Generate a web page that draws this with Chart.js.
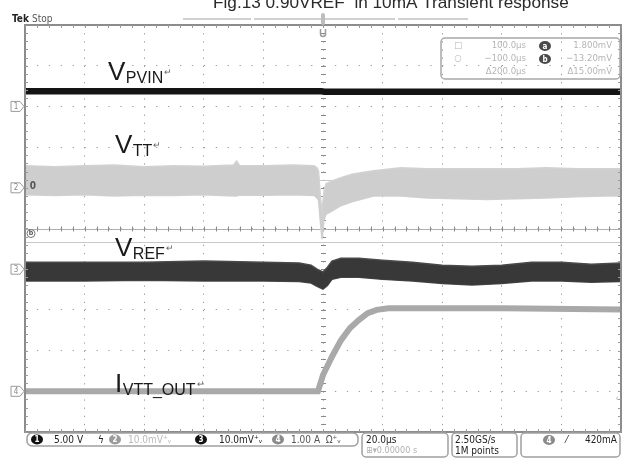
<!DOCTYPE html>
<html>
<head>
<meta charset="utf-8">
<script src="https://cdn.jsdelivr.net/npm/chart.js@4.4.1/dist/chart.umd.min.js"></script>
<style>
html,body{margin:0;padding:0;background:#fff;}
canvas{display:block;}
</style>
</head>
<body>
<canvas id="c" width="627" height="459"></canvas>
<script>
// ---- channel settings (per division) ----
const ch1Scale = 5;    // V/div  (V_PVIN)
const ch2Scale = 10;   // mV/div (V_TT)
const ch3Scale = 10;   // mV/div (V_REF)
const ch4Scale = 1;    // A/div  (I_VTT_OUT)
const ch1Offset = 3, ch2Offset = 1, ch3Offset = -1, ch4Offset = -4; // divisions

// ---- V_PVIN (V) ----
const pvinTime = [-100, -0.5, 0.5, 100];
const pvinVolt = [1.85, 1.85, 1.80, 1.80];

// ---- V_TT envelope (mV) ----
const vttTime = [-100,-90,-80,-70,-60,-50,-40,-30,-29,-28,-20,-10,-3,-2,-1.5,-0.8,-0.3,0.3,1,3,6,10,17,26,35,45,55,65,75,85,95,100];
const vttHigh = [5.4,5.2,5.4,5.6,5.2,5.4,5.3,5.6,6.6,5.5,5.4,5.6,5.4,4.9,4.0,-3.0,-6.0,-1.0,1.0,1.7,2.5,3.4,4.2,4.9,4.7,4.7,4.7,4.7,4.9,4.7,4.7,4.7];
const vttLow  = [-1.7,-1.9,-1.7,-2.0,-1.8,-1.9,-1.7,-2.0,-2.0,-1.8,-1.8,-1.7,-1.9,-2.5,-3.0,-9.0,-12.6,-8.0,-6.5,-5.7,-4.4,-3.4,-2.0,-2.0,-2.5,-2.7,-2.9,-2.7,-2.5,-2.2,-2.0,-2.0];
// denser core of the V_TT band (mV)
const vttCoreHigh = [4.2,4.0,4.2,4.3,4.0,4.2,4.1,4.3,4.6,4.2,4.2,4.3,4.2,3.8,3.0,-4.0,-7.0,-2.0,0.0,0.7,1.5,2.4,3.2,3.8,3.6,3.5,3.5,3.6,3.8,3.6,3.6,3.6];
const vttCoreLow  = [-0.6,-0.8,-0.6,-0.9,-0.7,-0.8,-0.6,-0.9,-0.9,-0.7,-0.7,-0.6,-0.8,-1.4,-2.0,-8.0,-11.5,-7.0,-5.5,-4.6,-3.4,-2.4,-1.0,-1.0,-1.5,-1.7,-1.9,-1.7,-1.5,-1.2,-1.0,-1.0];

// ---- V_REF envelope (mV) ----
const vrefTime = [-100,-80,-60,-40,-20,-8,-4,-2,0,1.5,3,6,12,20,30,40,50,60,70,80,90,100];
const vrefHigh = [1.7,1.7,1.7,2.0,1.7,1.5,1.0,0.0,-0.7,0.5,2.0,2.7,2.7,2.2,1.7,1.0,0.7,1.0,1.7,1.7,1.2,1.5];
const vrefLow  = [-2.9,-2.9,-2.7,-2.9,-2.9,-3.0,-3.4,-4.2,-4.9,-4.0,-2.5,-2.0,-2.0,-2.5,-2.9,-3.5,-3.9,-3.5,-2.9,-2.9,-3.2,-3.0];

// ---- I_VTT_OUT (A) ----
const ioutTime = [-100,-1.7,0,3,6,9,12,15,18,22,30,60,100];
const ioutAmp  = [0,0,0.4,0.85,1.25,1.55,1.75,1.92,2.0,2.04,2.04,2.04,2.01];

// ---- cursors ----
const cursorA = 1.8;     // mV (ch2)
const cursorB = -13.2;   // mV (ch2)

// ---- text ----
const titleText = 'Fig.13 0.90VREF  in 10mA Transient response';
const readoutRows = [
  ['□', '100.0µs', 'a', '1.800mV'],
  ['○', '−100.0µs', 'b', '−13.20mV'],
  ['', 'Δ200.0µs', '', 'Δ15.00mV']
];

const toDiv = (arr, scale, off) => arr.map(v => off + v / scale);
const pts = (t, arr) => t.map((x, i) => ({x, y: arr[i]}));

const datasets = [
  {label:'V_TT high', data: pts(vttTime, toDiv(vttHigh, ch2Scale, ch2Offset)), borderColor:'#d2d2d2', backgroundColor:'#cecece', borderWidth:1.5, fill:'+1'},
  {label:'V_TT low', data: pts(vttTime, toDiv(vttLow, ch2Scale, ch2Offset)), borderColor:'#d2d2d2', borderWidth:1.5, fill:false},
  {label:'V_TT core high', data: pts(vttTime, toDiv(vttCoreHigh, ch2Scale, ch2Offset)), borderColor:'#bcbcbc', backgroundColor:'#b9b9b9', borderWidth:1, fill:'+1'},
  {label:'V_TT core low', data: pts(vttTime, toDiv(vttCoreLow, ch2Scale, ch2Offset)), borderColor:'#bcbcbc', borderWidth:1, fill:false},
  {label:'V_REF high', data: pts(vrefTime, toDiv(vrefHigh, ch3Scale, ch3Offset)), borderColor:'#4a4a4a', backgroundColor:'#383838', borderWidth:1.5, fill:'+1'},
  {label:'V_REF low', data: pts(vrefTime, toDiv(vrefLow, ch3Scale, ch3Offset)), borderColor:'#4a4a4a', borderWidth:1.5, fill:false},
  {label:'I_VTT_OUT', data: pts(ioutTime, toDiv(ioutAmp, ch4Scale, ch4Offset)), borderColor:'#a9a9a9', borderWidth:6, fill:false},
  {label:'V_PVIN', data: pts(pvinTime, toDiv(pvinVolt, ch1Scale, ch1Offset)), borderColor:'#141414', borderWidth:6.5, fill:false}
];

const SANS = '"Liberation Sans", Arial, sans-serif';
const COND = '"DejaVu Sans Condensed", "DejaVu Sans", sans-serif';

function roundRect(ctx, x, y, w, h, r) {
  ctx.beginPath();
  ctx.moveTo(x + r, y);
  ctx.lineTo(x + w - r, y); ctx.arcTo(x + w, y, x + w, y + r, r);
  ctx.lineTo(x + w, y + h - r); ctx.arcTo(x + w, y + h, x + w - r, y + h, r);
  ctx.lineTo(x + r, y + h); ctx.arcTo(x, y + h, x, y + h - r, r);
  ctx.lineTo(x, y + r); ctx.arcTo(x, y, x + r, y, r);
  ctx.closePath();
}
function badge(ctx, cx, cy, txt, fill, color) {
  ctx.save();
  ctx.fillStyle = fill;
  ctx.beginPath(); ctx.ellipse(cx, cy, 6, 5, 0, 0, Math.PI * 2); ctx.fill();
  ctx.fillStyle = color; ctx.font = 'bold 8px ' + COND;
  ctx.textAlign = 'center'; ctx.textBaseline = 'middle';
  ctx.fillText(txt, cx, cy + 0.5);
  ctx.restore();
}
function label(ctx, x, base, main, sub, mainSize, subSize) {
  ctx.save();
  ctx.fillStyle = '#1a1a1a';
  ctx.textAlign = 'left';
  ctx.textBaseline = 'alphabetic';
  ctx.font = mainSize + 'px ' + SANS;
  ctx.fillText(main, x, base);
  const w = ctx.measureText(main).width;
  ctx.font = subSize + 'px ' + SANS;
  ctx.fillText(sub, x + w + 0.5, base + 3);
  const w2 = ctx.measureText(sub).width;
  ctx.font = '9px ' + SANS;
  ctx.fillStyle = '#666';
  ctx.fillText('↵', x + w + w2 + 1.5, base - 5);
  ctx.restore();
}

const scopePlugin = {
  id: 'scope',
  beforeDraw(chart) {
    const ctx = chart.ctx;
    ctx.save(); ctx.fillStyle = '#fff'; ctx.fillRect(0, 0, chart.width, chart.height); ctx.restore();
  },
  beforeDatasetsDraw(chart) {
    const ctx = chart.ctx, a = chart.chartArea, xs = chart.scales.x, ys = chart.scales.y;
    ctx.save();
    const y0 = ys.getPixelForValue(0), x0 = xs.getPixelForValue(0);
    ctx.strokeStyle = '#b0b0b0'; ctx.lineWidth = 1;
    ctx.beginPath(); ctx.moveTo(a.left, Math.round(y0) + 0.5); ctx.lineTo(a.right, Math.round(y0) + 0.5); ctx.stroke();
    ctx.strokeStyle = '#8a8a8a';
    for (let v = -100; v <= 100; v += 4) {
      const px = Math.round(xs.getPixelForValue(v)) + 0.5;
      ctx.beginPath(); ctx.moveTo(px, y0 - 2); ctx.lineTo(px, y0 + 3); ctx.stroke();
    }
    for (let v = -5; v <= 5; v += 0.2) {
      const py = Math.round(ys.getPixelForValue(v)) + 0.5;
      ctx.beginPath(); ctx.moveTo(x0 - 2, py); ctx.lineTo(x0 + 3, py); ctx.stroke();
    }
    ctx.strokeStyle = '#c8c8c8';
    [cursorA, cursorB].forEach(c => {
      const py = Math.round(ys.getPixelForValue(ch2Offset + c / ch2Scale)) + 0.5;
      ctx.beginPath(); ctx.moveTo(a.left, py); ctx.lineTo(a.right, py); ctx.stroke();
    });
    ctx.restore();
  },
  afterDatasetsDraw(chart) {
    const ctx = chart.ctx, a = chart.chartArea, xs = chart.scales.x, ys = chart.scales.y;
    ctx.save();
    // frame
    ctx.strokeStyle = '#8c8c8c'; ctx.lineWidth = 2;
    ctx.strokeRect(a.left, a.top, a.right - a.left, a.bottom - a.top);
    ctx.lineWidth = 1; ctx.strokeStyle = '#9a9a9a';
    for (let v = -100; v <= 100; v += 4) {
      const px = Math.round(xs.getPixelForValue(v)) + 0.5;
      ctx.beginPath(); ctx.moveTo(px, a.top); ctx.lineTo(px, a.top + 3); ctx.stroke();
      ctx.beginPath(); ctx.moveTo(px, a.bottom); ctx.lineTo(px, a.bottom - 3); ctx.stroke();
    }
    for (let v = -5; v <= 5; v += 0.2) {
      const py = Math.round(ys.getPixelForValue(v)) + 0.5;
      ctx.beginPath(); ctx.moveTo(a.left, py); ctx.lineTo(a.left + 3, py); ctx.stroke();
      ctx.beginPath(); ctx.moveTo(a.right, py); ctx.lineTo(a.right - 3, py); ctx.stroke();
    }
    // trigger position marker
    const x0 = xs.getPixelForValue(0);
    ctx.strokeStyle = '#9a9a9a'; ctx.lineWidth = 1.5;
    ctx.beginPath(); ctx.moveTo(x0 - 2.5, a.top + 4); ctx.lineTo(x0 - 2.5, a.top + 9); ctx.arc(x0, a.top + 9, 2.5, Math.PI, 0, true); ctx.lineTo(x0 + 2.5, a.top + 4); ctx.stroke();
    // top record bar
    ctx.strokeStyle = '#d0d0d0'; ctx.lineWidth = 2;
    [[183, 251], [254, 395], [398, 468]].forEach(s => { ctx.beginPath(); ctx.moveTo(s[0], 19); ctx.lineTo(s[1], 19); ctx.stroke(); });
    ctx.fillStyle = '#bdbdbd';
    roundRect(ctx, x0 - 2, 13, 4, 12, 2); ctx.fill();

    // channel markers on left
    const mk = (off, txt) => {
      const py = ys.getPixelForValue(off);
      ctx.strokeStyle = '#9a9a9a'; ctx.lineWidth = 1;
      ctx.beginPath(); ctx.moveTo(11, py - 5); ctx.lineTo(20, py - 5); ctx.lineTo(24, py); ctx.lineTo(20, py + 5); ctx.lineTo(11, py + 5); ctx.closePath(); ctx.stroke();
      ctx.fillStyle = '#8a8a8a'; ctx.font = '8px ' + COND; ctx.textAlign = 'center'; ctx.textBaseline = 'middle';
      ctx.fillText(txt, 16, py + 0.5);
    };
    mk(ch1Offset, '1'); mk(ch2Offset, '2'); mk(ch3Offset, '3'); mk(ch4Offset, '4');
    ctx.fillStyle = '#555'; ctx.font = 'bold 10px ' + COND; ctx.textAlign = 'center'; ctx.textBaseline = 'middle';
    ctx.fillText('0', 33, ys.getPixelForValue(ch2Offset) - 1);
    const yb = ys.getPixelForValue(ch2Offset + cursorB / ch2Scale) - 8;
    ctx.beginPath(); ctx.arc(31, yb, 4, 0, Math.PI * 2); ctx.strokeStyle = '#777'; ctx.stroke();
    ctx.font = 'bold 7px ' + COND; ctx.fillText('b', 31, yb);
    ctx.fillStyle = '#aaa'; ctx.font = '9px ' + COND; ctx.fillText('‹', 617, 399);

    // trace labels
    label(ctx, 108, 80, 'V', 'PVIN', 26, 16);
    label(ctx, 115, 153, 'V', 'TT', 26, 16);
    label(ctx, 115, 256, 'V', 'REF', 26, 16);
    label(ctx, 115, 392, 'I', 'VTT_OUT', 26, 16);

    // readout box
    ctx.strokeStyle = '#a8a8a8'; ctx.lineWidth = 1.5;
    roundRect(ctx, 441, 38, 179, 41, 4); ctx.stroke();
    ctx.font = '9.5px ' + COND; ctx.textBaseline = 'middle';
    readoutRows.forEach((r, i) => {
      const yy = 46 + i * 13;
      ctx.fillStyle = '#b5b5b5'; ctx.textAlign = 'center';
      if (r[0]) ctx.fillText(r[0], 458, yy);
      ctx.textAlign = 'right'; ctx.fillText(r[1], 526, yy);
      ctx.fillText(r[3], 612, yy);
      if (r[2]) badge(ctx, 545, yy, r[2], '#4a4a4a', '#fff');
    });

    // Tek Stop
    ctx.textAlign = 'left'; ctx.textBaseline = 'alphabetic';
    ctx.fillStyle = '#222'; ctx.font = 'bold 10px ' + COND; ctx.fillText('Tek', 12, 22);
    ctx.fillStyle = '#555'; ctx.font = '10px ' + COND; ctx.fillText('Stop', 32, 22);

    // title (clipped at top)
    ctx.fillStyle = '#2a2a2a'; ctx.font = '17.2px ' + SANS; ctx.textAlign = 'left';
    ctx.fillText(titleText, 213, 8);

    // status bar
    ctx.strokeStyle = '#a0a0a0'; ctx.lineWidth = 1.5;
    roundRect(ctx, 27, 433, 331, 13, 5); ctx.stroke();
    roundRect(ctx, 362, 433, 86, 24, 4); ctx.stroke();
    roundRect(ctx, 452, 433, 65, 24, 4); ctx.stroke();
    roundRect(ctx, 521, 433, 99, 24, 4); ctx.stroke();
    ctx.textBaseline = 'middle';
    badge(ctx, 37, 439.5, '1', '#111', '#fff');
    ctx.fillStyle = '#222'; ctx.font = '10px ' + COND; ctx.textAlign = 'left';
    ctx.fillText('5.00 V', 54, 440);
    ctx.fillText('ϟ', 98, 440);
    badge(ctx, 115, 439.5, '2', '#9a9a9a', '#fff');
    ctx.fillStyle = '#b8b8b8'; ctx.fillText('10.0mV⁺ᵥ', 128, 440);
    badge(ctx, 201, 439.5, '3', '#111', '#fff');
    ctx.fillStyle = '#222'; ctx.fillText('10.0mV⁺ᵥ', 219, 440);
    badge(ctx, 278, 439.5, '4', '#8a8a8a', '#fff');
    ctx.fillStyle = '#555'; ctx.fillText('1.00 A  Ω⁺ᵥ', 291, 440);
    ctx.fillStyle = '#222'; ctx.fillText('20.0µs', 366, 440);
    ctx.fillStyle = '#b0b0b0'; ctx.font = '9px ' + COND; ctx.fillText('⊞▾0.00000 s', 366, 451);
    ctx.fillStyle = '#222'; ctx.font = '10px ' + COND;
    ctx.fillText('2.50GS/s', 455, 440);
    ctx.fillText('1M points', 455, 451);
    badge(ctx, 549, 440, '4', '#8a8a8a', '#fff');
    ctx.fillStyle = '#222'; ctx.fillText('⁄', 566, 440);
    ctx.textAlign = 'right'; ctx.fillText('420mA', 617, 440);
    ctx.restore();
  }
};

new Chart(document.getElementById('c'), {
  type: 'line',
  data: { datasets },
  options: {
    responsive: false,
    animation: false,
    events: [],
    layout: { padding: { left: 25, top: 25, right: 6, bottom: 27 } },
    elements: { point: { radius: 0 }, line: { tension: 0 } },
    plugins: { legend: { display: false }, tooltip: { enabled: false }, title: { display: false } },
    scales: {
      x: {
        type: 'linear', min: -100, max: 100,
        ticks: { display: false, stepSize: 20 },
        grid: { color: '#9c9c9c', lineWidth: 1, drawTicks: false, tickLength: 0 },
        border: { display: false, dash: [1.3, 6.84] }
      },
      y: {
        type: 'linear', min: -5, max: 5,
        ticks: { display: false, stepSize: 1 },
        grid: { color: '#9c9c9c', lineWidth: 1, drawTicks: false, tickLength: 0 },
        border: { display: false, dash: [1.3, 10.62] }
      }
    }
  },
  plugins: [scopePlugin]
});
</script>
</body>
</html>
